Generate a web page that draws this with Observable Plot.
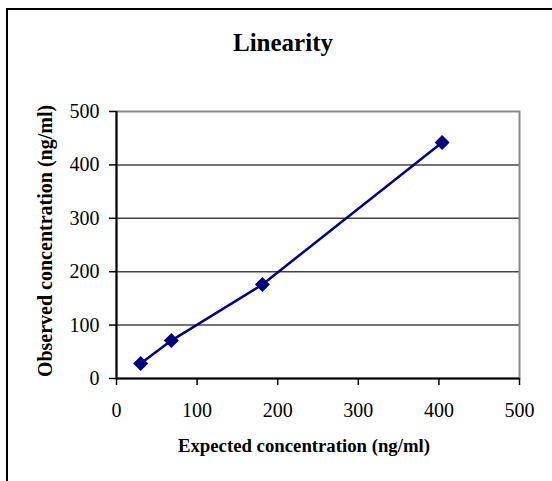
<!DOCTYPE html>
<html>
<head>
<meta charset="utf-8">
<script src="https://cdn.jsdelivr.net/npm/d3@7"></script>
<script src="https://cdn.jsdelivr.net/npm/@observablehq/plot@0.6"></script>
<style>
  html, body { margin: 0; padding: 0; background: #fff; }
  #wrap { position: relative; width: 552px; height: 481px; overflow: hidden; font-family: "Liberation Serif", "Times New Roman", serif; }
  #border { position: absolute; left: 6px; top: 8px; width: 546px; height: 480px; border-top: 2px solid #000; border-left: 2px solid #000; box-sizing: border-box; }
  .lbl { position: absolute; font-weight: bold; color: #000; white-space: nowrap; line-height: 1; }
  #title { left: 283px; top: 30px; transform: translateX(-50%); font-size: 25px; }
  #xlab { left: 304px; top: 436.5px; transform: translateX(-50%); font-size: 18.75px; }
  #ylab { left: 45px; top: 241px; transform: translate(-50%, -50%) rotate(-90deg); font-size: 20px; }
  #chart { position: absolute; left: 0; top: 0; }
</style>
</head>
<body>
<div id="wrap">
  <div id="chart"></div>
  <div id="border"></div>
  <div class="lbl" id="title">Linearity</div>
  <div class="lbl" id="xlab">Expected concentration (ng/ml)</div>
  <div class="lbl" id="ylab">Observed concentration (ng/ml)</div>
</div>
<script>
const expected = [30, 68, 181, 404];
const observed = [28, 71, 176, 442];
const xTicks = [0, 100, 200, 300, 400, 500];
const yTicks = [0, 100, 200, 300, 400, 500];

const data = expected.map((x, i) => ({x, y: observed[i]}));

const plot = Plot.plot({
  width: 552,
  height: 481,
  marginLeft: 116,
  marginRight: 33,
  marginTop: 111,
  marginBottom: 103,
  style: { fontFamily: '"Liberation Serif", "Times New Roman", serif', fontSize: "20px", background: "transparent", color: "#000" },
  x: { domain: [0, 500] },
  y: { domain: [0, 500] },
  marks: [
    Plot.gridY(yTicks.slice(1, -1), { stroke: "#444", strokeOpacity: 1, strokeWidth: 1.5 }),
    Plot.frame({ stroke: "#888", strokeWidth: 2 }),
    Plot.ruleX([0], { stroke: "#000", strokeWidth: 2 }),
    Plot.ruleY([0], { stroke: "#000", strokeWidth: 2 }),
    Plot.axisY(yTicks, { tickSize: 7, tickPadding: 10, label: null, stroke: "#000", strokeWidth: 1.5, fontSize: 20 }),
    Plot.axisX(xTicks, { tickSize: 7, tickPadding: 17, label: null, stroke: "#000", strokeWidth: 1.5, fontSize: 20 }),
    Plot.line(data, { x: "x", y: "y", stroke: "#000080", strokeWidth: 2.5 }),
    Plot.dot(data, { x: "x", y: "y", symbol: "square", rotate: 45, r: 5.4, fill: "#000080", stroke: "#000080", strokeWidth: 1 })
  ]
});
document.getElementById("chart").appendChild(plot);
</script>
</body>
</html>
